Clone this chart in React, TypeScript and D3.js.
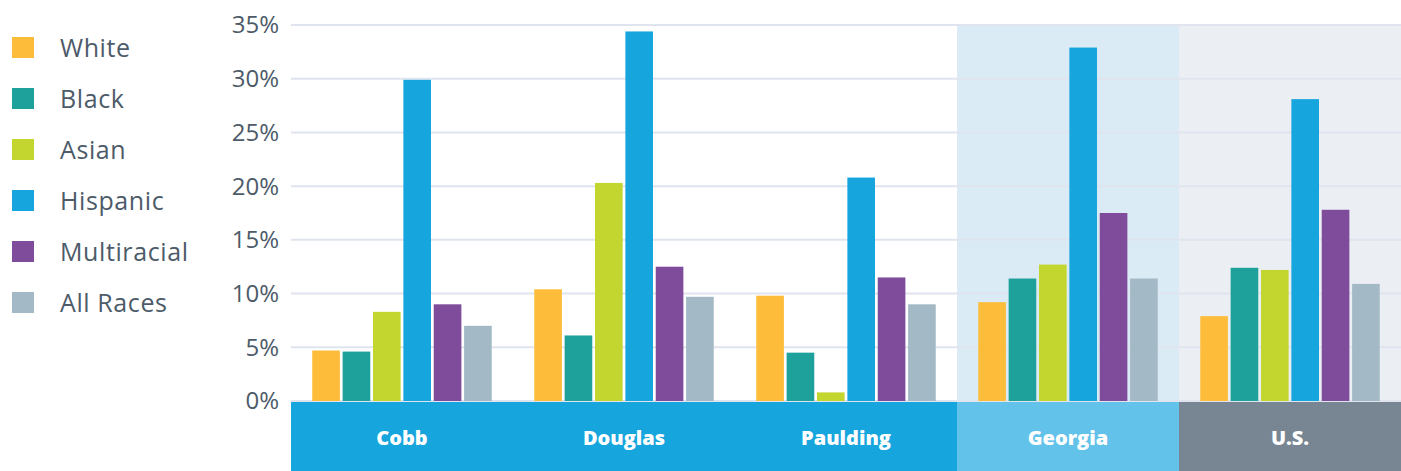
import React from "react";
import * as d3 from "d3";

const categories = ["Cobb", "Douglas", "Paulding", "Georgia", "U.S."];
const seriesNames = ["White", "Black", "Asian", "Hispanic", "Multiracial", "All Races"];
const seriesColors = ["#fdbd3a", "#1ea09b", "#c3d52f", "#17a5de", "#7f4c9b", "#a3b9c6"];

const white = [4.7, 10.4, 9.8, 9.2, 7.9];
const black = [4.6, 6.1, 4.5, 11.4, 12.4];
const asian = [8.3, 20.3, 0.8, 12.7, 12.2];
const hispanic = [29.9, 34.4, 20.8, 32.9, 28.1];
const multiracial = [9.0, 12.5, 11.5, 17.5, 17.8];
const allRaces = [7.0, 9.7, 9.0, 11.4, 10.9];

const yTicks = [0, 5, 10, 15, 20, 25, 30, 35];

const bandColors = ["#17a5de", "#17a5de", "#17a5de", "#62c2ea", "#778692"];
const areaFill = ["none", "none", "none", "#dbebf5", "#ebeff4"];

export default function App() {
  const W = 1401;
  const H = 471;
  const left = 291;
  const right = 1401;
  const top = 25;
  const base = 401;
  const series = [white, black, asian, hispanic, multiracial, allRaces];

  const x0 = d3.scaleBand<string>().domain(categories).range([left, right]).padding(0);
  const x1 = d3
    .scaleBand<string>()
    .domain(seriesNames)
    .range([0, x0.bandwidth()])
    .paddingInner(0.09)
    .paddingOuter(0.7);
  const y = d3.scaleLinear().domain([0, 35]).range([base, top]);

  const font = "'Open Sans', sans-serif";
  const textColor = "#4d5b69";

  return (
    <svg
      width={W}
      height={H}
      style={{ position: "absolute", left: 0, top: 0, background: "#fff" }}
    >
      {categories.map((c, i) =>
        areaFill[i] === "none" ? null : (
          <rect key={"a" + c} x={x0(c)} y={top} width={x0.bandwidth()} height={base - top} fill={areaFill[i]} />
        )
      )}
      {yTicks.map((t) => (
        <line
          key={"g" + t}
          x1={left}
          x2={right}
          y1={y(t)}
          y2={y(t)}
          stroke="#dfe4ee"
          strokeWidth={2}
        />
      ))}
      {yTicks.map((t) => (
        <text
          key={"t" + t}
          x={279}
          y={y(t)}
          dy="0.35em"
          textAnchor="end"
          fontFamily={font}
          fontSize={24}
          fill={textColor}
        >
          {t + "%"}
        </text>
      ))}
      {categories.map((c, ci) =>
        seriesNames.map((s, si) => {
          const v = series[si][ci];
          const bx = (x0(c) as number) + (x1(s) as number);
          return (
            <rect
              key={c + s}
              x={bx}
              y={y(v)}
              width={x1.bandwidth()}
              height={base - y(v)}
              fill={seriesColors[si]}
            />
          );
        })
      )}
      {categories.map((c, i) => (
        <g key={"b" + c}>
          <rect x={x0(c)} y={base + 1} width={x0.bandwidth()} height={H - base - 1} fill={bandColors[i]} />
          <text
            x={(x0(c) as number) + x0.bandwidth() / 2}
            y={438}
            dy="0.35em"
            textAnchor="middle"
            fontFamily={font}
            fontWeight={800}
            fontSize={20}
            fill="#fff"
          >
            {c}
          </text>
        </g>
      ))}
      {seriesNames.map((s, i) => (
        <g key={"l" + s} transform={`translate(12, ${37 + i * 51})`}>
          <rect x={0} y={0} width={22} height={21} fill={seriesColors[i]} />
          <text
            x={48}
            y={11}
            dy="0.35em"
            fontFamily={font}
            fontSize={25}
            letterSpacing={0.6}
            fill={textColor}
          >
            {s}
          </text>
        </g>
      ))}
    </svg>
  );
}
